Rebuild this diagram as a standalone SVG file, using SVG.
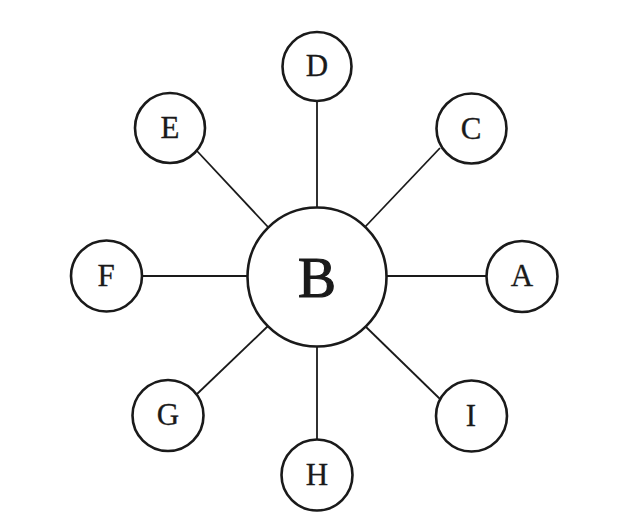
<svg xmlns="http://www.w3.org/2000/svg" width="640" height="528" viewBox="0 0 640 528">
<style>
.n{fill:#fff;stroke:#1a1a1a;stroke-width:2.6}
.c{stroke:#1a1a1a;stroke-width:1.8;fill:none}
.t{font-family:"Liberation Serif","Times New Roman",serif;font-size:31px;fill:#1a1a1a;stroke:#1a1a1a;stroke-width:0.3;text-anchor:middle}
.tb{font-family:"Liberation Serif","Times New Roman",serif;font-size:57px;fill:#1a1a1a;stroke:#1a1a1a;stroke-width:1.2;text-anchor:middle}
</style>
<rect width="640" height="528" fill="#fff"/>
<g id="connectors">
<line class="c" x1="317" y1="101" x2="317" y2="207"/>
<line class="c" x1="440" y1="148" x2="365" y2="227"/>
<line class="c" x1="386" y1="276" x2="486" y2="276"/>
<line class="c" x1="440" y1="399" x2="365" y2="326"/>
<line class="c" x1="317" y1="347" x2="317" y2="440"/>
<line class="c" x1="197" y1="394" x2="268" y2="326"/>
<line class="c" x1="142" y1="276" x2="248" y2="276"/>
<line class="c" x1="197" y1="151" x2="268" y2="227"/>
</g>
<g id="B"><circle class="n" cx="317" cy="277" r="69.5"/><text class="tb" x="317" y="297">B</text></g>
<g id="D"><circle class="n" cx="317" cy="66.5" r="34.5"/><text class="t" x="317" y="76">D</text></g>
<g id="C"><circle class="n" cx="471.5" cy="128.5" r="35"/><text class="t" x="471" y="139">C</text></g>
<g id="A"><circle class="n" cx="522" cy="276.5" r="35.5"/><text class="t" x="522" y="286">A</text></g>
<g id="I"><circle class="n" cx="471.5" cy="416" r="35.5"/><text class="t" x="471" y="426">I</text></g>
<g id="H"><circle class="n" cx="317" cy="475" r="35.5"/><text class="t" x="317" y="485">H</text></g>
<g id="G"><circle class="n" cx="168" cy="415.5" r="35.5"/><text class="t" x="168" y="425">G</text></g>
<g id="F"><circle class="n" cx="106.5" cy="276" r="35.5"/><text class="t" x="106" y="286">F</text></g>
<g id="E"><circle class="n" cx="170" cy="128" r="35"/><text class="t" x="170" y="138">E</text></g>
</svg>
